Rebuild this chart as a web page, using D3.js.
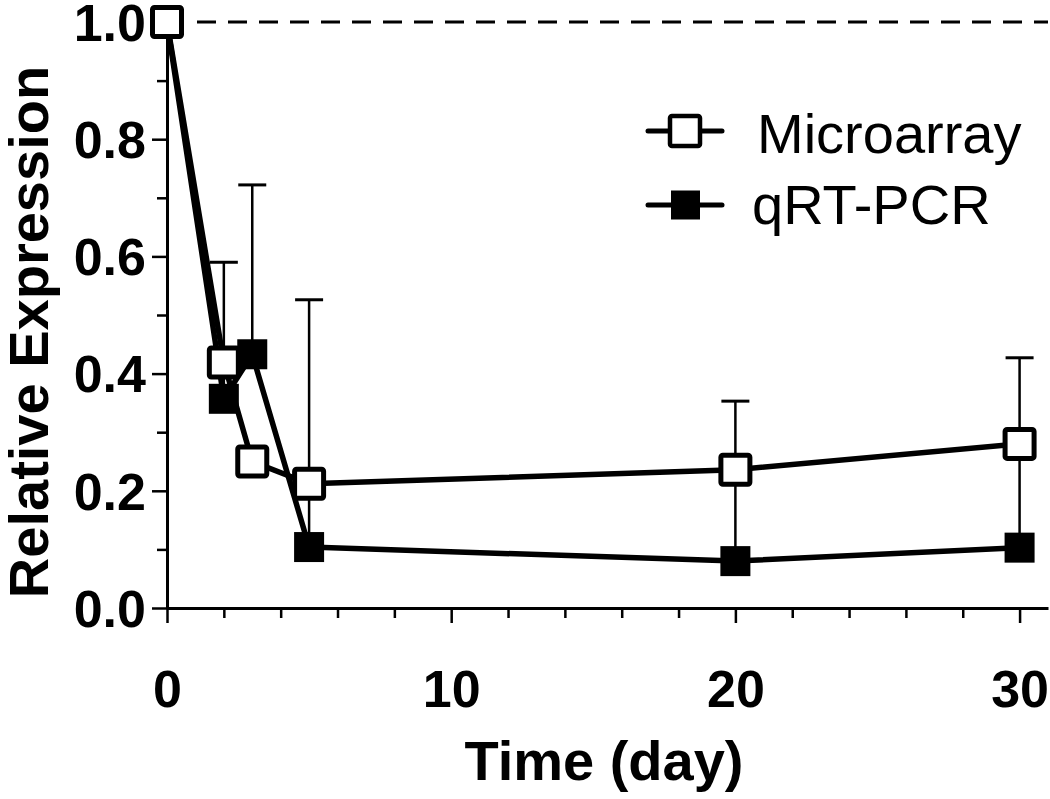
<!DOCTYPE html>
<html>
<head>
<meta charset="utf-8">
<script src="https://cdn.jsdelivr.net/npm/d3@7"></script>
<style>
  html, body { margin: 0; padding: 0; background: #fff; }
  svg { display: block; }
</style>
</head>
<body>
<svg id="chart" width="1050" height="799"></svg>
<script>
// ---- data ----
const days = [0, 2, 3, 5, 20, 30];
const microarray = [1.0, 0.419, 0.25, 0.212, 0.236, 0.28];
const qrtpcr = [1.0, 0.357, 0.433, 0.104, 0.08, 0.103];
const qrtpcrUpper = [null, 0.59, 0.722, 0.526, 0.353, 0.427];
const xTickValues = [0, 10, 20, 30];
const yTickValues = [0.0, 0.2, 0.4, 0.6, 0.8, 1.0];
const seriesNames = ["Microarray", "qRT-PCR"];
const referenceLevel = 1.0;

// ---- layout ----
const svg = d3.select("#chart");
const x = d3.scaleLinear().domain([0, 31]).range([167, 1048]);
const y = d3.scaleLinear().domain([0, 1.0]).range([608, 22]);
const fontFam = "'Liberation Sans', Arial, Helvetica, sans-serif";

// reference dashed line at 1.0
svg.append("line")
  .attr("x1", 197).attr("x2", x(31))
  .attr("y1", y(referenceLevel)).attr("y2", y(referenceLevel))
  .attr("stroke", "#000").attr("stroke-width", 3)
  .attr("stroke-dasharray", "19,12");

// ---- axes ----
const xMinor = d3.range(0, 31, 2).filter(v => !xTickValues.includes(v));
const yMinor = d3.range(1, 10, 2).map(v => v / 10);

const xAxisG = svg.append("g").attr("transform", `translate(0,${y(0)})`);
xAxisG.call(d3.axisBottom(x).tickValues(xTickValues).tickSize(15).tickSizeOuter(0).tickFormat(d3.format("d")).tickPadding(50));
xAxisG.call(g => g.select(".domain").attr("stroke-width", 3));
xAxisG.selectAll(".tick line").attr("stroke-width", 2.5);
xAxisG.selectAll(".tick text")
  .attr("font-family", fontFam).attr("font-weight", "bold").attr("font-size", 52)
  .attr("fill", "#000").attr("dy", 0).attr("y", 99);
const xMinorG = svg.append("g").attr("transform", `translate(0,${y(0)})`);
xMinorG.call(d3.axisBottom(x).tickValues(xMinor).tickSize(10).tickSizeOuter(0).tickFormat(""));
xMinorG.select(".domain").remove();
xMinorG.selectAll(".tick line").attr("stroke-width", 2.5);

const yAxisG = svg.append("g").attr("transform", `translate(${x(0)},0)`);
yAxisG.call(d3.axisLeft(y).tickValues(yTickValues).tickSize(15).tickSizeOuter(0).tickFormat(d3.format(".1f")).tickPadding(6));
yAxisG.call(g => g.select(".domain").attr("stroke-width", 3));
yAxisG.selectAll(".tick line").attr("stroke-width", 2.5);
yAxisG.selectAll(".tick text")
  .attr("font-family", fontFam).attr("font-weight", "bold").attr("font-size", 52)
  .attr("fill", "#000").attr("dy", "0.35em");
const yMinorG = svg.append("g").attr("transform", `translate(${x(0)},0)`);
yMinorG.call(d3.axisLeft(y).tickValues(yMinor).tickSize(10).tickSizeOuter(0).tickFormat(""));
yMinorG.select(".domain").remove();
yMinorG.selectAll(".tick line").attr("stroke-width", 2.5);

// axis titles
svg.append("text")
  .attr("x", 604).attr("y", 780)
  .attr("text-anchor", "middle")
  .attr("font-family", fontFam).attr("font-weight", "bold").attr("font-size", 56)
  .text("Time (day)");
svg.append("text")
  .attr("transform", "translate(48,332) rotate(-90)")
  .attr("text-anchor", "middle")
  .attr("font-family", fontFam).attr("font-weight", "bold").attr("font-size", 56)
  .text("Relative Expression");

// ---- error bars (upper) ----
const errData = days.map((d, i) => ({ d, v: qrtpcr[i], u: qrtpcrUpper[i] })).filter(e => e.u != null);
const errG = svg.append("g");
errG.selectAll("line.v").data(errData).enter().append("line")
  .attr("x1", e => x(e.d)).attr("x2", e => x(e.d))
  .attr("y1", e => y(e.v)).attr("y2", e => y(e.u))
  .attr("stroke", "#000").attr("stroke-width", 2.5);
errG.selectAll("line.c").data(errData).enter().append("line")
  .attr("x1", e => x(e.d) - 14).attr("x2", e => x(e.d) + 14)
  .attr("y1", e => y(e.u)).attr("y2", e => y(e.u))
  .attr("stroke", "#000").attr("stroke-width", 3);

// ---- lines ----
const line = d3.line().x(p => x(p[0])).y(p => y(p[1]));
const qPts = days.map((d, i) => [d, qrtpcr[i]]);
const mPts = days.map((d, i) => [d, microarray[i]]);
svg.append("path").attr("d", line(qPts)).attr("fill", "none")
  .attr("stroke", "#000").attr("stroke-width", 5.5).attr("stroke-linejoin", "round");
svg.append("path").attr("d", line(mPts)).attr("fill", "none")
  .attr("stroke", "#000").attr("stroke-width", 5.5).attr("stroke-linejoin", "round");

// ---- markers ----
const fs = 30, os = 29;
svg.selectAll("rect.q").data(qPts).enter().append("rect")
  .attr("x", p => x(p[0]) - fs / 2).attr("y", p => y(p[1]) - fs / 2)
  .attr("width", fs).attr("height", fs).attr("fill", "#000");
svg.selectAll("rect.m").data(mPts).enter().append("rect")
  .attr("x", p => x(p[0]) - os / 2).attr("y", p => y(p[1]) - os / 2)
  .attr("width", os).attr("height", os).attr("rx", 2)
  .attr("fill", "#fff").attr("stroke", "#000").attr("stroke-width", 5);

// ---- legend ----
const legend = svg.append("g");
const legY = [131, 205];
legend.selectAll("line").data(legY).enter().append("line")
  .attr("x1", 648).attr("x2", 722).attr("y1", d => d).attr("y2", d => d)
  .attr("stroke", "#000").attr("stroke-width", 5).attr("stroke-linecap", "round");
legend.append("rect").attr("x", 685 - 15).attr("y", legY[0] - 15)
  .attr("width", 30).attr("height", 30).attr("rx", 2)
  .attr("fill", "#fff").attr("stroke", "#000").attr("stroke-width", 4.5);
legend.append("rect").attr("x", 685.5 - 14.5).attr("y", legY[1] - 14.5)
  .attr("width", 29).attr("height", 29).attr("fill", "#000");
legend.selectAll("text").data(seriesNames).enter().append("text")
  .attr("x", (d, i) => i === 0 ? 757 : 752)
  .attr("y", (d, i) => [153, 224][i])
  .attr("font-family", fontFam).attr("font-size", 56).attr("fill", "#000")
  .text(d => d);
</script>
</body>
</html>
